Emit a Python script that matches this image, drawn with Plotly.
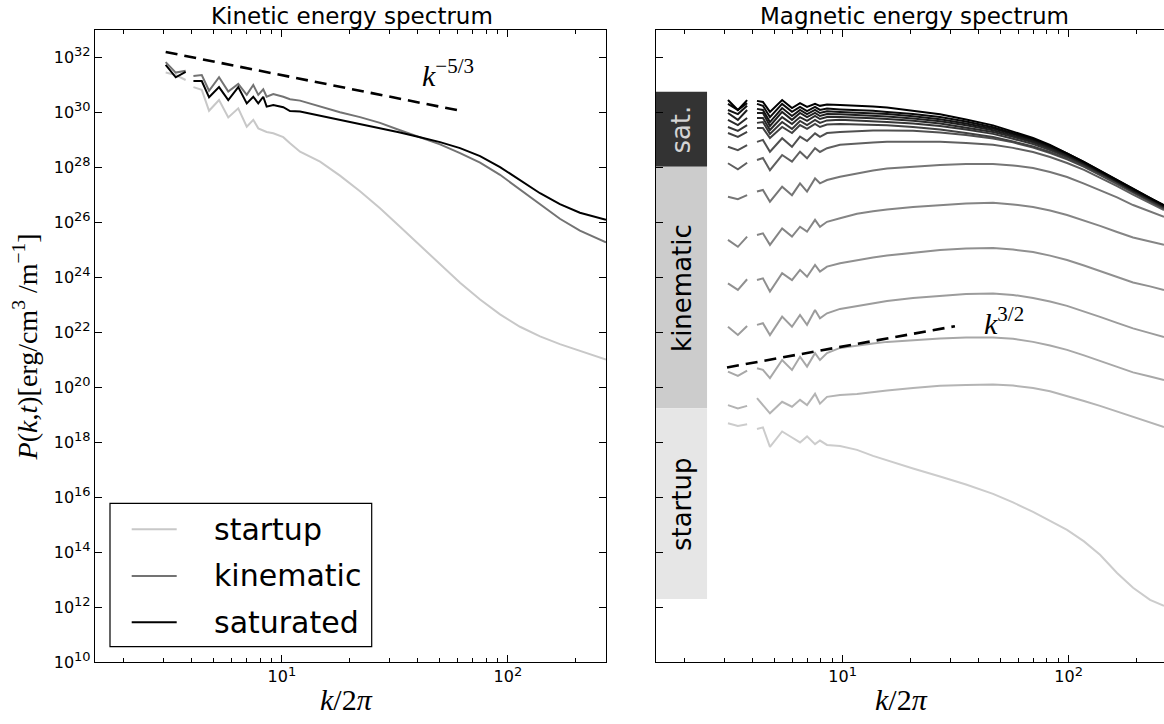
import plotly.graph_objects as go

# ---------------- data ----------------
# k/2pi sampling of the kinetic spectra
k_kin = [3.06, 3.39, 3.75, 4.06, 4.42, 4.76, 5.27, 5.79, 6.41, 6.99, 7.47, 7.86,
         8.27, 8.56, 9.16, 10.14, 10.86, 12.03, 14.75, 18.07, 22.16, 27.17, 33.31,
         40.84, 50.08, 61.4, 75.3, 92.3, 113.1, 138.7, 169.8, 208.2, 271.6]
# log10 P(k,t)
kin_startup = [31.45, 31.36, 31.18, 30.92, 30.82, 30.06, 30.45, 29.82, 30.15, 29.48, 29.73,
               29.42, 29.34, 29.29, 29.24, 29.10, 28.88, 28.57, 28.21, 27.70, 27.13, 26.51,
               25.84, 25.15, 24.46, 23.80, 23.19, 22.65, 22.20, 21.85, 21.57, 21.32, 21.01]
kin_kinematic = [31.83, 31.45, 31.52, 31.33, 31.36, 30.79, 31.28, 30.76, 31.04, 30.64, 31.00,
                 30.64, 30.84, 30.57, 30.67, 30.57, 30.48, 30.43, 30.21, 30.01, 29.83, 29.62,
                 29.35, 29.10, 28.84, 28.52, 28.17, 27.73, 27.20, 26.64, 26.13, 25.70, 25.27]
kin_saturated = [31.73, 31.28, 31.48, 31.14, 31.14, 30.55, 30.92, 30.45, 30.92, 30.33, 30.57,
                 30.33, 30.57, 30.21, 30.27, 30.19, 30.05, 30.03, 29.88, 29.73, 29.58, 29.43,
                 29.27, 29.10, 28.92, 28.70, 28.41, 28.01, 27.53, 27.06, 26.66, 26.35, 26.09]

# k/2pi sampling of the magnetic spectra
k_mag = [3.11, 3.44, 3.78, 4.18, 4.44, 4.77, 5.40, 5.97, 6.48, 6.96, 7.55, 7.94, 8.53,
         9.74, 11.58, 13.63, 15.72, 20.49, 26.98, 35.16, 46.3, 56.75, 69.6, 82.75, 98.4,
         116.97, 137.7, 163.8, 192.8, 229.2, 264.3]
# log10 P(k,t), one list per snapshot
mag_startup = [18.69, 18.59, 18.65, 18.48, 18.54, 17.83, 18.39, 18.17, 17.99, 18.21, 17.93, 18.06, 17.90,
               17.86, 17.72, 17.50, 17.33, 17.04, 16.75, 16.46, 16.12, 15.81, 15.46, 15.15, 14.81,
               14.39, 13.90, 13.24, 12.70, 12.26, 12.04]
mag_kinematic_1 = [19.35, 19.23, 19.32, 19.60, 19.35, 19.05, 19.47, 19.29, 19.54, 19.35, 19.76, 19.40, 19.65,
                   19.72, 19.75, 19.83, 19.88, 19.97, 20.05, 20.08, 20.10, 20.06, 19.97, 19.85, 19.68,
                   19.50, 19.32, 19.12, 18.92, 18.74, 18.55]
mag_kinematic_2 = [20.57, 20.41, 20.60, 20.69, 20.63, 20.33, 20.99, 20.63, 21.11, 20.75, 21.24, 20.99, 21.24,
                   21.43, 21.52, 21.59, 21.65, 21.72, 21.77, 21.81, 21.81, 21.76, 21.65, 21.52, 21.36,
                   21.16, 20.96, 20.74, 20.54, 20.39, 20.26]
mag_kinematic_3 = [22.20, 21.90, 22.23, 22.27, 22.33, 21.90, 22.57, 22.20, 22.63, 22.27, 22.81, 22.51, 22.69,
                   22.85, 22.96, 23.05, 23.14, 23.25, 23.32, 23.39, 23.41, 23.36, 23.25, 23.12, 22.96,
                   22.76, 22.56, 22.34, 22.14, 21.97, 21.83]
mag_kinematic_4 = [23.78, 23.54, 23.93, 23.90, 23.96, 23.48, 24.15, 23.90, 24.27, 24.02, 24.45, 24.21, 24.39,
                   24.51, 24.63, 24.72, 24.79, 24.90, 24.99, 25.05, 25.07, 25.01, 24.92, 24.79, 24.63,
                   24.43, 24.23, 24.01, 23.81, 23.67, 23.54]
mag_kinematic_5 = [25.36, 25.11, 25.48, 25.54, 25.60, 25.18, 25.78, 25.48, 25.84, 25.66, 26.09, 25.84, 26.02,
                   26.15, 26.31, 26.40, 26.47, 26.56, 26.63, 26.69, 26.71, 26.65, 26.56, 26.43, 26.27,
                   26.07, 25.87, 25.65, 25.45, 25.30, 25.18]
mag_kinematic_6 = [26.93, 26.84, 26.99, 27.12, 27.18, 26.75, 27.30, 26.99, 27.42, 27.12, 27.60, 27.42, 27.54,
                   27.66, 27.79, 27.89, 27.96, 28.03, 28.09, 28.12, 28.12, 28.07, 27.98, 27.83, 27.65,
                   27.41, 27.18, 26.91, 26.63, 26.40, 26.20]
mag_saturated_1 = [28.15, 27.93, 28.17, 28.27, 28.34, 27.90, 28.45, 28.21, 28.57, 28.33, 28.70, 28.56, 28.70,
                   28.82, 28.87, 28.91, 28.93, 28.93, 28.93, 28.89, 28.82, 28.71, 28.56, 28.38, 28.16,
                   27.91, 27.63, 27.32, 27.01, 26.71, 26.45]
mag_saturated_2 = [28.75, 28.63, 28.81, 28.93, 29.00, 28.57, 29.06, 28.75, 29.12, 28.96, 29.24, 29.11, 29.25,
                   29.29, 29.33, 29.34, 29.34, 29.33, 29.27, 29.18, 29.05, 28.91, 28.72, 28.52, 28.29,
                   28.02, 27.72, 27.40, 27.07, 26.76, 26.49]
mag_saturated_3 = [29.25, 29.11, 29.29, 29.43, 29.43, 29.07, 29.47, 29.25, 29.54, 29.40, 29.58, 29.47, 29.56,
                   29.58, 29.56, 29.54, 29.53, 29.47, 29.38, 29.25, 29.11, 28.94, 28.76, 28.56, 28.32,
                   28.05, 27.76, 27.43, 27.11, 26.80, 26.52]
mag_saturated_4 = [29.47, 29.33, 29.54, 29.62, 29.65, 29.22, 29.65, 29.40, 29.69, 29.54, 29.73, 29.62, 29.71,
                   29.73, 29.71, 29.68, 29.65, 29.60, 29.51, 29.38, 29.22, 29.04, 28.85, 28.63, 28.38,
                   28.09, 27.80, 27.47, 27.12, 26.81, 26.54]
mag_saturated_5 = [29.73, 29.54, 29.80, 29.80, 29.80, 29.36, 29.83, 29.58, 29.83, 29.69, 29.87, 29.76, 29.83,
                   29.83, 29.82, 29.79, 29.76, 29.70, 29.60, 29.46, 29.29, 29.11, 28.91, 28.68, 28.42,
                   28.12, 27.82, 27.48, 27.14, 26.83, 26.56]
mag_saturated_6 = [29.98, 29.73, 30.09, 29.98, 29.98, 29.51, 30.02, 29.73, 29.98, 29.83, 29.98, 29.87, 29.94,
                   29.93, 29.91, 29.88, 29.85, 29.78, 29.68, 29.53, 29.35, 29.16, 28.95, 28.72, 28.45,
                   28.14, 27.83, 27.50, 27.16, 26.85, 26.58]
mag_saturated_7 = [30.09, 29.94, 30.24, 30.13, 30.09, 29.65, 30.16, 29.87, 30.09, 29.94, 30.09, 29.98, 30.04,
                   30.02, 30.00, 29.97, 29.94, 29.86, 29.75, 29.60, 29.41, 29.21, 29.00, 28.76, 28.48,
                   28.17, 27.85, 27.51, 27.17, 26.87, 26.60]
mag_saturated_8 = [30.31, 30.09, 30.34, 30.31, 30.24, 29.83, 30.31, 30.02, 30.20, 30.05, 30.20, 30.09, 30.14,
                   30.11, 30.09, 30.06, 30.02, 29.94, 29.83, 29.67, 29.46, 29.25, 29.03, 28.79, 28.51,
                   28.19, 27.87, 27.53, 27.19, 26.88, 26.61]
mag_saturated_9 = [30.45, 30.09, 30.45, 30.42, 30.38, 30.02, 30.45, 30.16, 30.34, 30.20, 30.31, 30.24, 30.29,
                   30.27, 30.25, 30.22, 30.18, 30.07, 29.93, 29.74, 29.53, 29.30, 29.07, 28.82, 28.52,
                   28.20, 27.88, 27.54, 27.20, 26.89, 26.63]

BREAK_AFTER = 3  # the spectra are drawn with a break after the first three bins

# reference power laws (end points)
kolmogorov_k = [3.06, 62.5]
kolmogorov_log10P = [32.20, 30.05]
kazantsev_k = [3.08, 31.4]
kazantsev_log10P = [20.72, 22.22]

x_major = [10, 100]
x_major_exp = [1, 2]
x_minor = [2, 3, 4, 5, 6, 7, 8, 9, 20, 30, 40, 50, 60, 70, 80, 90, 200]
y_exponents = [10, 12, 14, 16, 18, 20, 22, 24, 26, 28, 30, 32]

legend_labels = ["startup", "kinematic", "saturated"]
phase_labels = ["sat.", "kinematic", "startup"]

# ---------------- styles ----------------
kin_colors = ["#c8c8c8", "#737373", "#000000"]
mag_series = [mag_startup, mag_kinematic_1, mag_kinematic_2, mag_kinematic_3, mag_kinematic_4,
              mag_kinematic_5, mag_kinematic_6, mag_saturated_1, mag_saturated_2, mag_saturated_3,
              mag_saturated_4, mag_saturated_5, mag_saturated_6, mag_saturated_7, mag_saturated_8,
              mag_saturated_9]
mag_colors = ["#cccccc", "#b4b4b4", "#a8a8a8", "#9c9c9c", "#909090", "#858585", "#767676",
              "#606060", "#505050", "#424242", "#363636", "#2a2a2a", "#1f1f1f", "#141414",
              "#0a0a0a", "#000000"]


def power_label(e):
    return "10<sup><span style='font-size:13px'>%d</span></sup>" % e


def broken(xs, es):
    xx = list(xs[:BREAK_AFTER]) + [None] + list(xs[BREAK_AFTER:])
    yy = [10.0 ** e for e in es[:BREAK_AFTER]] + [None] + [10.0 ** e for e in es[BREAK_AFTER:]]
    return xx, yy


fig = go.Figure()

for name, series, col in zip(legend_labels, [kin_startup, kin_kinematic, kin_saturated], kin_colors):
    xx, yy = broken(k_kin, series)
    fig.add_trace(go.Scatter(x=xx, y=yy, mode="lines", name=name, connectgaps=False,
                             line=dict(color=col, width=2), xaxis="x", yaxis="y"))

fig.add_trace(go.Scatter(x=kolmogorov_k, y=[10.0 ** e for e in kolmogorov_log10P], mode="lines",
                         name="k^-5/3", line=dict(color="black", width=2.6, dash="12px,7px"),
                         xaxis="x", yaxis="y"))

for i, (series, col) in enumerate(zip(mag_series, mag_colors)):
    xx, yy = broken(k_mag, series)
    fig.add_trace(go.Scatter(x=xx, y=yy, mode="lines", name="snapshot %d" % i, connectgaps=False,
                             line=dict(color=col, width=2), xaxis="x2", yaxis="y2"))

fig.add_trace(go.Scatter(x=kazantsev_k, y=[10.0 ** e for e in kazantsev_log10P], mode="lines",
                         name="k^3/2", line=dict(color="black", width=2.6, dash="12px,7px"),
                         xaxis="x2", yaxis="y2"))

axis_common = dict(type="log", showline=True, linecolor="black", linewidth=1.3,
                   ticks="inside", ticklen=7, tickwidth=1.2, tickcolor="black",
                   showgrid=False, zeroline=False,
                   tickfont=dict(family="DejaVu Sans", size=16, color="black"))
minor_x = dict(tickmode="array", tickvals=x_minor, ticks="inside", ticklen=4,
               tickwidth=1, tickcolor="black", showgrid=False)

x_text = [power_label(e) for e in x_major_exp]
y_vals = [10.0 ** e for e in y_exponents]
y_text = [power_label(e) for e in y_exponents]

fig.update_layout(
    width=1164, height=724,
    margin=dict(l=95, r=0, t=30, b=62),
    paper_bgcolor="white", plot_bgcolor="white",
    showlegend=False,
    font=dict(family="DejaVu Sans", color="black"),
    xaxis=dict(domain=[0, 0.47802], range=[0.173, 2.434], anchor="y", mirror="ticks",
               tickmode="array", tickvals=x_major, ticktext=x_text, minor=minor_x,
               **axis_common),
    xaxis2=dict(domain=[0.52451, 1.0], range=[0.173, 2.422], anchor="y2", mirror="ticks",
                tickmode="array", tickvals=x_major, ticktext=x_text, minor=minor_x,
                **axis_common),
    yaxis=dict(domain=[0, 1], range=[10, 33], anchor="x", mirror="ticks",
               tickmode="array", tickvals=y_vals, ticktext=y_text, **axis_common),
    yaxis2=dict(domain=[0, 1], range=[10, 33], anchor="x2", mirror=False,
                tickmode="array", tickvals=y_vals, showticklabels=False, **axis_common),
)

# phase bands in the magnetic panel
bands = [(0.7837, 0.9024, "#333333", "#d4d4d4"),
         (0.4014, 0.7837, "#cccccc", "black"),
         (0.0997, 0.4014, "#e6e6e6", "black")]
for (y0, y1, fill, tcol), label in zip(bands, phase_labels):
    fig.add_shape(type="rect", xref="x2 domain", yref="y2 domain", x0=0, x1=0.101,
                  y0=y0, y1=y1, fillcolor=fill, line=dict(width=0), layer="below")
    fig.add_annotation(xref="x2 domain", yref="y2 domain", x=0.0506, y=(y0 + y1) / 2,
                       text=label, textangle=-90, showarrow=False,
                       font=dict(family="DejaVu Sans", size=26, color=tcol),
                       xanchor="center", yanchor="middle")

# legend of the kinetic panel
fig.add_shape(type="rect", xref="paper", yref="paper", x0=0.01403, x1=0.25884,
              y0=0.02421, y1=0.25111, line=dict(color="black", width=1.2),
              fillcolor="white", layer="above")
for label, col, yy in zip(legend_labels, kin_colors, [0.20997, 0.13608, 0.06282]):
    fig.add_shape(type="line", xref="paper", yref="paper", x0=0.03433, x1=0.07643,
                  y0=yy, y1=yy, line=dict(color=col, width=2), layer="above")
    fig.add_annotation(xref="paper", yref="paper", x=0.10917, y=yy, text=label,
                       showarrow=False, xanchor="left", yanchor="middle",
                       font=dict(family="DejaVu Sans", size=30, color="black"))

math_font = dict(family="Liberation Serif", size=30, color="black")
# power-law labels
fig.add_annotation(xref="x", yref="y", x=1.735, y=31.44, text="<i>k</i><sup>−5/3</sup>",
                   showarrow=False, font=math_font)
fig.add_annotation(xref="x2", yref="y2", x=1.714, y=22.41, text="<i>k</i><sup>3/2</sup>",
                   showarrow=False, font=math_font)

# titles
title_font = dict(family="DejaVu Sans", size=23, color="black")
fig.add_annotation(xref="paper", yref="paper", x=0.24013, y=1.0222, text="Kinetic energy spectrum",
                   showarrow=False, font=title_font, xanchor="center", yanchor="middle")
fig.add_annotation(xref="paper", yref="paper", x=0.76614, y=1.0222, text="Magnetic energy spectrum",
                   showarrow=False, font=title_font, xanchor="center", yanchor="middle")

# axis labels
fig.add_annotation(xref="paper", yref="paper", x=(346.7 - 95) / 1069, y=-0.0601,
                   text="<i>k</i>/2<i>π</i>", showarrow=False, font=math_font,
                   xanchor="center", yanchor="middle")
fig.add_annotation(xref="paper", yref="paper", x=(901 - 95) / 1069, y=-0.0601,
                   text="<i>k</i>/2<i>π</i>", showarrow=False, font=math_font,
                   xanchor="center", yanchor="middle")
fig.add_annotation(xref="paper", yref="paper", x=(25.7 - 95) / 1069, y=(662 - 346.7) / 632,
                   text="<i>P</i>(<i>k</i>,<i>t</i>)[erg/cm<sup>3</sup> /m<sup>−1</sup>]",
                   textangle=-90, showarrow=False,
                   font=dict(family="Liberation Serif", size=28, color="black"),
                   xanchor="center", yanchor="middle")

fig.write_html("out.html", config={"displayModeBar": False},
               post_script="document.body.style.margin='0px';")
